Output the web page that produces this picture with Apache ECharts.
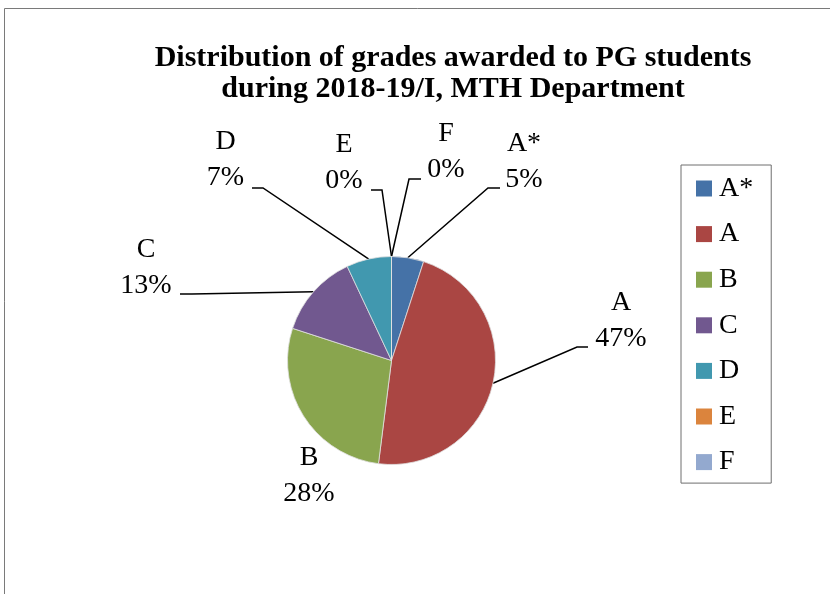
<!DOCTYPE html>
<html>
<head>
<meta charset="utf-8">
<title>Distribution of grades awarded to PG students</title>
<script src="https://cdn.jsdelivr.net/npm/echarts@6/dist/echarts.min.js"></script>
<style>
  html, body { margin: 0; padding: 0; background: #fff; }
  #chart { width: 830px; height: 594px; }
</style>
</head>
<body>
<div id="chart"></div>
<script>
// Grade categories and their share of PG students (percent)
const grades = ['A*', 'A', 'B', 'C', 'D', 'E', 'F'];
const shares = [5, 47, 28, 13, 7, 0, 0];
const sliceColors = ['#4572A7', '#AA4643', '#89A54E', '#71588F', '#4198AF', '#DB843D', '#93A9CF'];

// Where each data label sits, and the bend/end of its leader line (null = no line)
const labelSpots = [
  { c: [524, 161.5], bend: [488, 188], end: [500, 188] },
  { c: [621, 320.5], bend: [577, 347], end: [588, 347] },
  { c: [309, 475.5], bend: null,       end: null },
  { c: [146, 268],   bend: [192, 294], end: [180, 294] },
  { c: [225.5, 159.5], bend: [263, 188], end: [252, 188] },
  { c: [344, 162.5], bend: [382, 190], end: [371, 190] },
  { c: [446, 152],   bend: [409, 179], end: [421, 179] }
];

const SERIF = '"Liberation Serif", "Times New Roman", serif';
const pieCenter = [391.5, 360.5];
const pieRadius = 104;

const chart = echarts.init(document.getElementById('chart'), null, { renderer: 'canvas' });

const seriesData = grades.map((g, i) => ({
  name: g,
  value: shares[i],
  itemStyle: { color: sliceColors[i] },
  labelLine: { show: labelSpots[i].bend !== null }
}));

chart.setOption({
  animation: false,
  backgroundColor: '#ffffff',
  title: {
    text: 'Distribution of grades awarded to PG students\nduring 2018-19/I, MTH Department',
    left: 448,
    top: 37.5,
    textAlign: 'center',
    textStyle: {
      fontFamily: SERIF,
      fontWeight: 'bold',
      fontSize: 30,
      lineHeight: 31,
      color: '#000'
    }
  },
  legend: {
    orient: 'vertical',
    left: 681,
    top: 165,
    data: grades,
    icon: 'rect',
    itemWidth: 16,
    itemHeight: 16,
    itemGap: 17.6,
    padding: [9.5, 18, 7, 15],
    borderColor: '#6e6e6e',
    borderWidth: 1,
    selectedMode: false,
    itemStyle: { borderWidth: 0 },
    textStyle: {
      fontFamily: SERIF,
      fontSize: 28,
      lineHeight: 28,
      color: '#000',
      padding: [0, 0, 0, 2]
    }
  },
  graphic: [{
    type: 'rect',
    silent: true,
    shape: { x: 4.5, y: 8.5, width: 900, height: 700 },
    style: { fill: 'none', stroke: '#7a7a7a', lineWidth: 1 }
  }],
  series: [{
    type: 'pie',
    center: pieCenter,
    radius: pieRadius,
    startAngle: 90,
    clockwise: true,
    avoidLabelOverlap: false,
    data: seriesData,
    itemStyle: { borderColor: '#e0e0e0', borderWidth: 0.8 },
    label: {
      show: true,
      position: 'outside',
      fontFamily: SERIF,
      fontSize: 28,
      lineHeight: 36,
      color: '#000',
      align: 'center',
      formatter: p => p.name + '\n' + Math.round(p.percent) + '%'
    },
    labelLine: {
      show: true,
      length: 20,
      length2: 10,
      lineStyle: { color: '#000', width: 1.5 }
    },
    emphasis: { disabled: true },
    labelLayout: function (params) {
      const spot = labelSpots[params.dataIndex];
      const out = { x: spot.c[0], y: spot.c[1], align: 'center', verticalAlign: 'middle' };
      if (spot.bend && params.labelLinePoints && params.labelLinePoints.length) {
        const start = params.labelLinePoints[0];
        out.labelLinePoints = [[start[0], start[1]], spot.bend, spot.end];
      }
      return out;
    }
  }]
});
</script>
</body>
</html>
